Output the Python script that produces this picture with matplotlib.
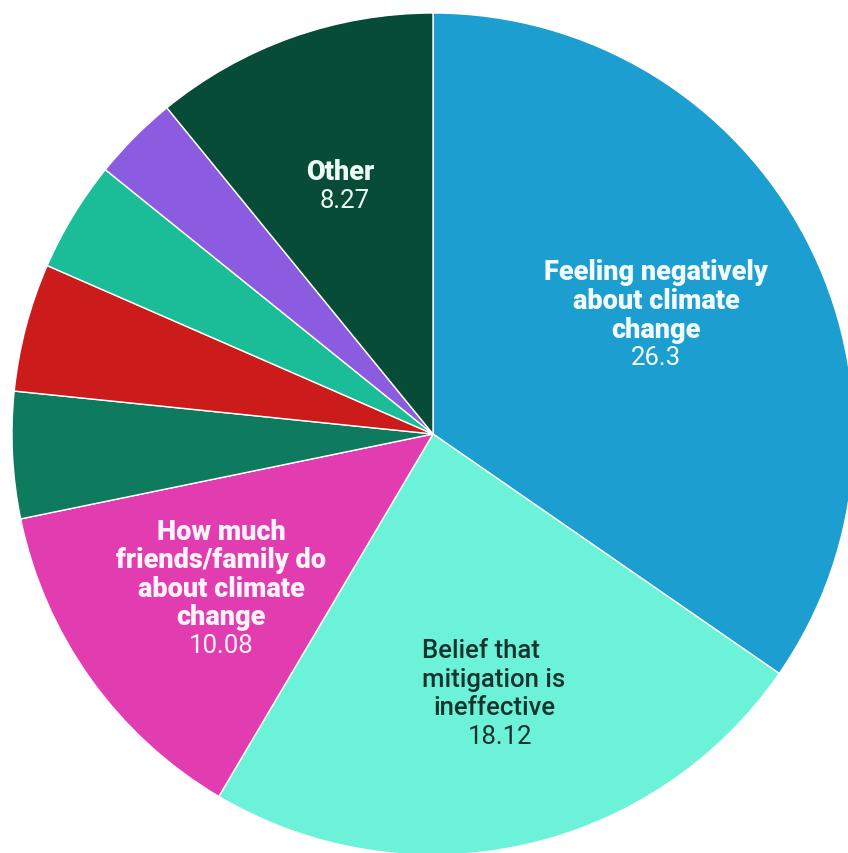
import matplotlib
matplotlib.use("Agg")
import matplotlib.pyplot as plt

categories = [
    "Feeling negatively\nabout climate\nchange",
    "Belief that\nmitigation is\nineffective",
    "How much\nfriends/family do\nabout climate\nchange",
    "Group D",
    "Group E",
    "Group F",
    "Group G",
    "Other",
]
values = [26.3, 18.12, 10.08, 3.69, 3.74, 3.23, 2.51, 8.27]
show_label = [True, True, True, False, False, False, False, True]
colors = ["#1c9fd0", "#6cf2d8", "#e23db0", "#0e7a5e", "#cc1b1b",
          "#1bbd98", "#8b5ce0", "#064c37"]
text_colors = ["#f2fbff", "#17332e", "#fff4fb", None, None, None, None, "#eefaf4"]
label_weights = ["heavy", "medium", "heavy", None, None, None, None, "heavy"]

W, H = 848, 854
fig = plt.figure(figsize=(W / 100, H / 100), dpi=100)
ax = fig.add_axes([0, 0, 1, 1])
ax.set_xlim(0, W)
ax.set_ylim(0, H)
ax.set_aspect("equal")
ax.axis("off")

cx, cy, r = 433, H - 435, 421
ax.pie(values, colors=colors, startangle=90, counterclock=False,
       center=(cx, cy), radius=r,
       wedgeprops=dict(edgecolor="white", linewidth=1.0))
ax.set_xlim(0, W)
ax.set_ylim(0, H)

font = "Roboto"
# (label center x, label center y, value x offset, first-line x offset, font size)
label_pos = {
    0: (656, 301.5, 0, 0, 19.5),
    1: (494, 680, 6, -13, 18.5),
    2: (221, 575, 0, 0, 19.5),
    7: (340, 172, 5, 0, 19.5),
}
line_h = 28.5
for i, (lab, val) in enumerate(zip(categories, values)):
    if not show_label[i]:
        continue
    x, yc, dx, dx0, fs = label_pos[i]
    lines = lab.split("\n")
    n = len(lines)
    y0 = yc - (n - 1) * line_h / 2
    for k, ln in enumerate(lines):
        ax.text(x + (dx0 if k == 0 else 0), H - (y0 + k * line_h), ln,
                ha="center", va="center",
                fontsize=fs, fontweight=label_weights[i], family=font,
                color=text_colors[i])
    ax.text(x + dx, H - (y0 + n * line_h), f"{val:g}", ha="center", va="center",
            fontsize=18.5, family=font, color=text_colors[i])

fig.savefig("out.png", dpi=100, facecolor="white")
